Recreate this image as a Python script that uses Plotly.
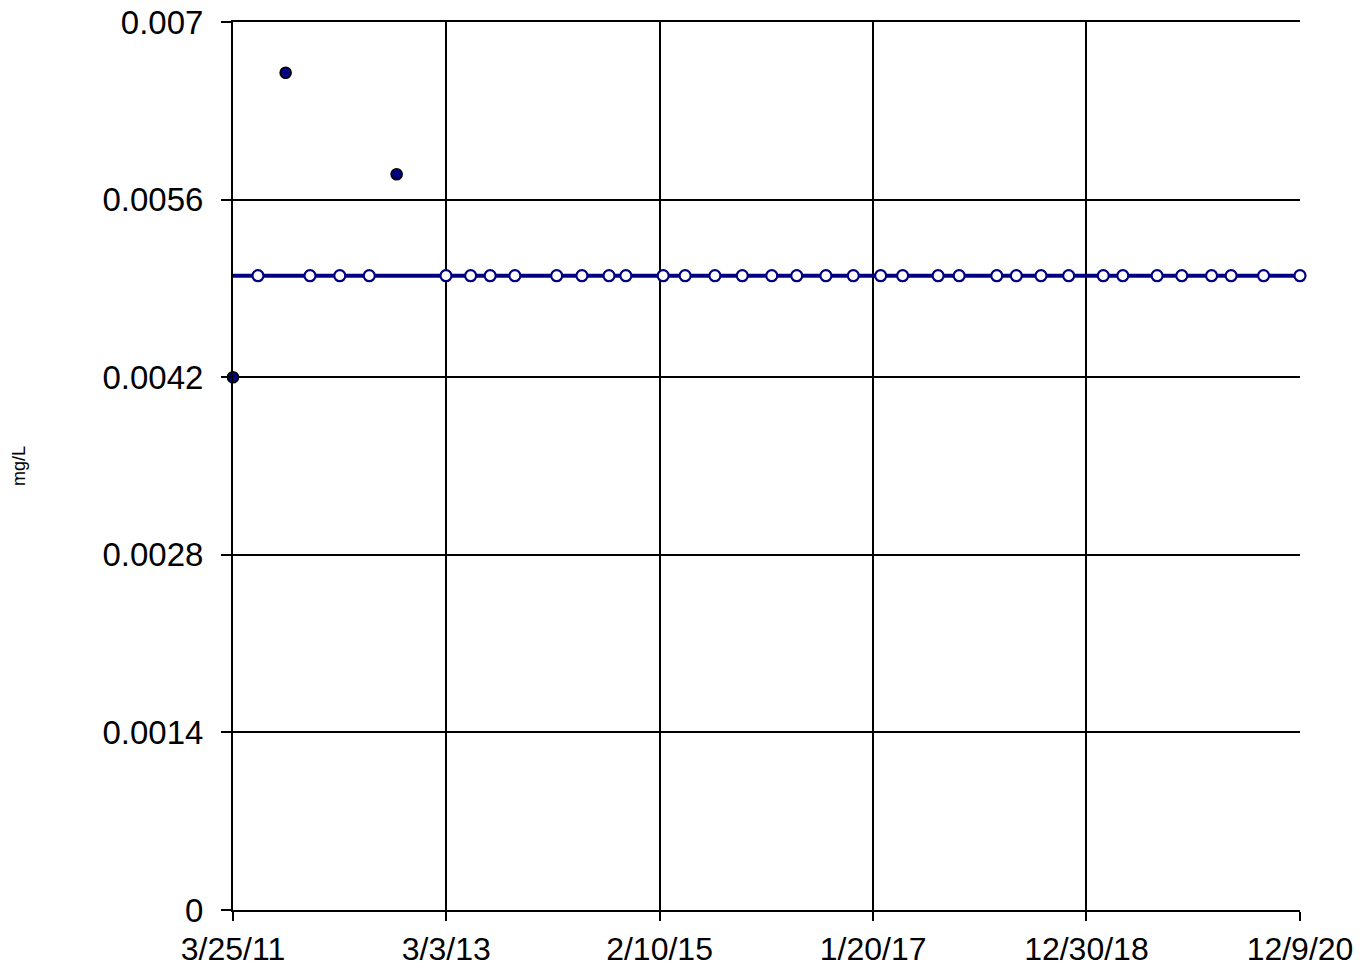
import plotly.graph_objects as go

# Detected values
det_dates = ["2011-03-25", "2011-09-16", "2012-09-19"]
det_values = [0.0042, 0.0066, 0.0058]

# Non-detects at reporting limit
nd_dates = [
    "2011-06-16", "2011-12-06", "2012-03-14", "2012-06-20", "2013-03-02",
    "2013-05-23", "2013-07-27", "2013-10-17", "2014-03-05", "2014-05-28",
    "2014-08-26", "2014-10-21", "2015-02-22", "2015-05-06", "2015-08-13",
    "2015-11-12", "2016-02-18", "2016-05-11", "2016-08-16", "2016-11-15",
    "2017-02-14", "2017-04-28", "2017-08-24", "2017-11-02", "2018-03-07",
    "2018-05-11", "2018-08-01", "2018-11-01", "2019-02-24", "2019-04-30",
    "2019-08-22", "2019-11-12", "2020-02-19", "2020-04-24", "2020-08-10",
    "2020-12-09",
]
nd_values = [0.005] * len(nd_dates)

# Reporting-limit line
limit_dates = ["2011-03-25", "2020-12-09"]
limit_values = [0.005, 0.005]

x_tickvals = ["2011-03-25", "2013-03-03", "2015-02-10", "2017-01-20", "2018-12-30", "2020-12-09"]
x_ticktext = ["3/25/11", "3/3/13", "2/10/15", "1/20/17", "12/30/18", "12/9/20"]
y_tickvals = [0, 0.0014, 0.0028, 0.0042, 0.0056, 0.007]
y_ticktext = ["0", "0.0014", "0.0028", "0.0042", "0.0056", "0.007"]

navy = "#000080"

fig = go.Figure()
fig.add_trace(go.Scatter(
    x=limit_dates, y=limit_values, mode="lines",
    line=dict(color=navy, width=4), showlegend=False, hoverinfo="skip",
    cliponaxis=False,
))
fig.add_trace(go.Scatter(
    x=nd_dates, y=nd_values, mode="markers",
    marker=dict(symbol="circle", size=11, color="white", line=dict(color=navy, width=2.2)),
    showlegend=False, cliponaxis=False,
))
fig.add_trace(go.Scatter(
    x=det_dates, y=det_values, mode="markers",
    marker=dict(symbol="circle", size=11, color=navy, line=dict(color="black", width=1.6)),
    showlegend=False, cliponaxis=False,
))

font_family = "Liberation Sans, Arial, sans-serif"

fig.update_layout(
    template="none",
    width=1364, height=971,
    margin=dict(l=233, r=64, t=22, b=61, pad=0),
    paper_bgcolor="white", plot_bgcolor="white",
    font=dict(family=font_family, color="black", size=33),
    xaxis=dict(
        type="date",
        range=["2011-03-25", "2020-12-09"],
        tickmode="array", tickvals=x_tickvals, ticktext=x_ticktext,
        showgrid=True, gridcolor="black", gridwidth=2,
        showline=True, linecolor="black", linewidth=2, mirror=True,
        ticks="outside", ticklen=9, tickwidth=2, tickcolor="black",
        tickfont=dict(size=32, family=font_family, color="black"),
        zeroline=False, ticklabelstandoff=1, automargin=False,
    ),
    yaxis=dict(
        range=[0, 0.007],
        tickmode="array", tickvals=y_tickvals, ticktext=y_ticktext,
        showgrid=True, gridcolor="black", gridwidth=2,
        showline=True, linecolor="black", linewidth=2,
        ticks="outside", ticklen=10, tickwidth=2, tickcolor="black",
        tickfont=dict(size=33, family=font_family, color="black"),
        zeroline=False, ticklabelstandoff=11, automargin=False,
        ticklabeloverflow="allow",
        title=dict(text="mg/L", font=dict(size=18, family=font_family, color="black"), standoff=72),
    ),
)

fig.write_html(
    "out.html",
    config={"displayModeBar": False},
    post_script="document.body.style.margin='0px';",
)
